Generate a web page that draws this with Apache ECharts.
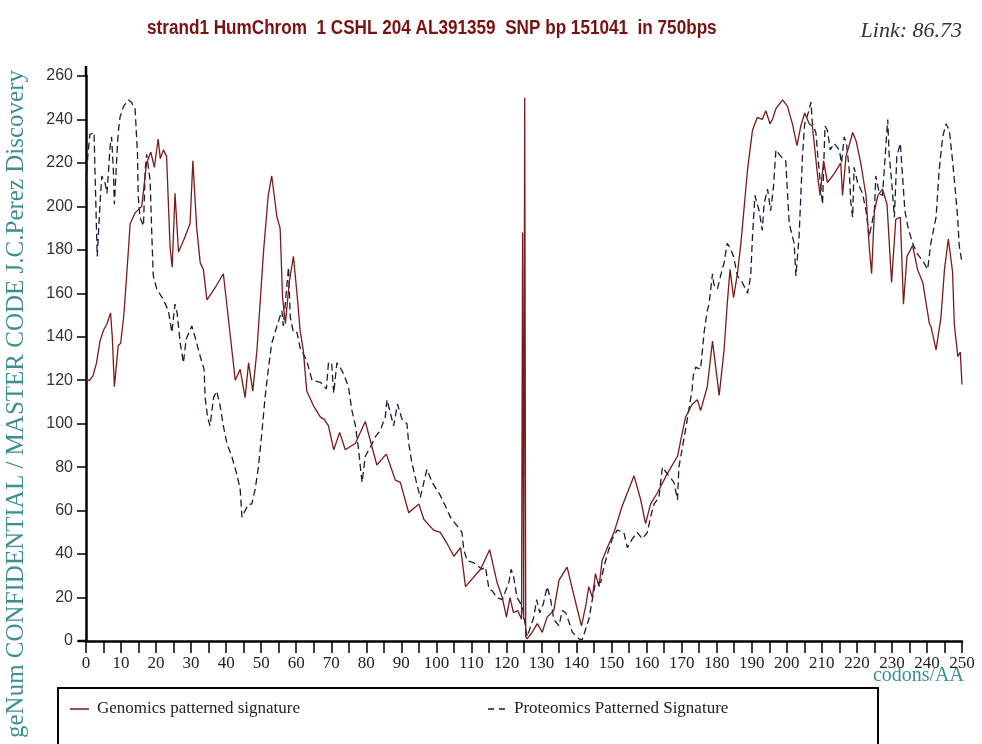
<!DOCTYPE html>
<html>
<head>
<meta charset="utf-8">
<script src="https://cdn.jsdelivr.net/npm/echarts@6/dist/echarts.min.js"></script>
<style>
html,body{margin:0;padding:0;background:#fff;}
#chart{width:982px;height:744px;}
</style>
</head>
<body>
<div id="chart"></div>
<script>
// ---- data ----
const titleText = 'strand1 HumChrom  1 CSHL 204 AL391359  SNP bp 151041  in 750bps';
const linkText = 'Link: 86.73';
const yAxisName = 'geNum CONFIDENTIAL / MASTER CODE J.C.Perez Discovery';
const xAxisName = 'codons/AA';
const seriesNames = ['Genomics patterned signature', 'Proteomics Patterned Signature'];

const genX = [0,1,2,3,4,5,6,7,7.5,8.1,9.2,9.9,10.8,11.6,12.6,14,15.9,17.3,18.5,19.5,20.6,21.2,22.1,23,24,24.6,25.4,26.4,28,29.7,30.5,31.6,32.6,33.5,34.5,37,39.2,42.6,44,45.4,46.4,47.6,48.8,50.7,52,53,54.5,55.4,56.1,56.9,58,59.2,60.2,61.1,62,63,65,66.9,68,69.2,70.7,72.4,74,76.9,79.7,83,85.7,88.3,89.7,92.1,95,96.4,99.2,101.1,103,105,106.9,108.3,112.6,115.2,117.3,118.8,120,121,122,123.2,124.3,124.6,124.9,125.2,125.5,125.9,127.3,128.8,130.2,131.6,133.5,135,137.3,138.8,140,141.4,142.6,143.5,144.5,145.4,146.4,147.3,148.8,150.7,153,156.4,158.3,159.7,161.1,163,165.9,168.8,170.2,171.1,173,174.5,175.4,177.3,178.8,180.7,182.1,183,183.8,184.8,185.9,186.9,188.8,190.2,191.6,193,194,195.2,195.9,196.9,198.8,200.2,201.6,202.9,204,205.1,206.4,207.3,208.8,209.5,210.5,211.6,213.5,215.4,215.9,216.9,217.8,218.8,219.8,221.1,222.6,223.5,224.2,225,226,227.3,228.6,229.9,231.1,232.4,233.3,234.3,235.9,237.3,238.8,239.8,240.7,241.1,242.6,244,245,246.1,247.3,247.8,248.8,249.5,250];
const genY = [120,120,122,128,138,143,146,151,140,117,136,137,150,168,192,197,200,220,225,218,231,222,226,223,181,172,206,179,185,192,221,190,174,171,157,163,169,120,125,112,128,115,134,180,205,214,195,190,158,146,165,177,160,143,134,115,108,103,102,99,88,96,88,91,101,81,86,74,73,59,63,56,51,50,45,39,43,25,33,42,27,20,11,20,13,14,10,188,10,250,2,1,4,8,4,11,14,28,34,24,16,7,16,25,20,31,25,37,43,50,62,76,65,54,63,68,77,85,96,103,109,111,106,117,138,113,134,155,171,158,169,183,217,235,241,240,244,238,240,245,249,246,238,228,237,243,238,237,214,205,221,211,215,220,205,223,228,234,230,220,205,182,169,198,205,208,201,165,194,195,155,177,182,171,165,155,146,145,134,149,171,185,170,146,131,133,118];

const protX = [0,0.5,1.1,2.3,2.6,3.2,4,4.5,5.4,6,6.9,7.3,7.8,8.1,8.8,9.2,9.7,10.7,12.1,12.9,14,14.7,14.9,15.4,16.4,16.9,17.3,18.3,18.8,19.2,20.2,22.1,23.5,24.5,25.4,26,26.9,27.8,28.6,30.2,31.1,32.6,33.7,34,34.7,35.4,36.4,37.3,38.3,39.2,40.2,41.6,43,44,44.5,45.4,46.4,47.3,48.3,49.2,50.2,51.1,52.1,53,54.5,55.9,56.3,57.3,57.8,58.3,59.2,60.2,61.1,63,64.5,66.9,68.6,69.2,70.1,70.7,71.6,72.5,73.5,74.9,75.9,76.9,77.8,78.3,78.8,79.7,81.1,82.6,84,85.4,85.9,87,87.8,88.9,90.2,91.6,92.1,93,94.3,95.4,96.4,97.3,98.8,101.1,102.6,104,105.9,107.3,107.8,108.8,110.7,113,114,115,116,117.3,118.8,120.7,121.3,122,123,124.5,125.9,127.8,128.6,129.5,130.5,131.6,132.6,133.5,135,135.9,136.9,137.8,138.8,140.7,141.6,143.5,144.5,145.4,146.9,147.8,148.8,150.2,151.6,153.5,154.5,155.9,157.3,158.8,160.2,161.1,162.1,163.5,164.5,165.4,167.8,168.8,169.2,170.2,171.6,173,173.3,174,175.4,176.4,177.3,177.8,178.8,179.2,180.2,181.1,182.1,183,183.8,184.8,185.9,187.3,188.8,189.7,190.2,190.9,192.1,193,193.5,194.5,195.4,196.2,196.9,198.3,199.7,200.2,200.7,202.1,202.6,203.5,204,204.5,205.1,206.1,206.9,207.3,208.3,208.8,209.5,210.2,210.9,211.6,212.4,213.5,215,215.6,216.4,217.1,217.8,218.3,218.8,219.2,220.2,221.6,222.6,223.5,225,225.4,226.4,227.3,228.8,229.2,229.9,230.7,231.4,232.4,232.9,233.7,234.5,235.9,237.3,238.8,240.2,241.1,242.6,243.5,244.5,245.4,246.4,247.3,248,248.8,249.2,250];
const protY = [211,223,233,234,214,177,201,214,211,206,228,232,217,201,223,234,241,246,249,248,245,224,205,195,191,217,224,212,186,168,162,157,152,142,155,151,137,128,139,145,140,131,125,112,103,99,112,115,108,99,91,85,77,70,57,60,63,63,70,80,96,112,126,137,145,152,145,163,172,149,142,142,135,129,120,119,116,128,128,114,128,126,123,117,106,99,88,80,73,85,89,94,97,103,111,104,99,109,102,100,91,82,73,66,73,79,73,67,62,57,53,50,42,37,36,33,34,24,23,20,19,27,33,30,20,16,2,11,19,13,17,25,19,10,7,14,13,9,4,1,0.5,10,19,27,27,34,40,47,51,50,43,47,50,47,50,57,63,66,80,78,73,65,80,89,102,116,122,126,125,142,152,155,169,164,162,168,174,183,181,177,168,165,160,168,186,205,198,189,201,208,198,209,226,223,221,206,192,183,168,186,205,224,238,243,248,238,234,224,212,201,237,235,226,229,226,220,232,228,217,201,195,218,211,206,198,186,198,214,206,205,240,224,212,195,223,229,217,198,191,183,178,175,171,183,195,217,232,238,235,221,209,194,182,174];

const yMin = 0, yMax = 260, yStep = 20;
const xMin = 0, xMax = 250, xStep = 10;

// ---- chart ----
const genColor = '#7a1a1a';
const protColor = '#1a1a3a';
const chart = echarts.init(document.getElementById('chart'), null, {renderer: 'canvas'});
const serifFont = "'Liberation Serif', 'Times New Roman', serif";

chart.setOption({
  animation: false,
  backgroundColor: '#fff',
  grid: {left: 86, right: 20, top: 76, bottom: 103, containLabel: false},
  xAxis: {
    type: 'value', min: xMin, max: xMax, interval: xStep,
    axisLine: {show: true, lineStyle: {color: '#000', width: 2.5}},
    axisTick: {show: true, length: 12, lineStyle: {color: '#000', width: 1.5}},
    minorTick: {show: true, splitNumber: 2, length: 12, lineStyle: {color: '#000', width: 1.5}},
    splitLine: {show: false},
    axisLabel: {color: '#222', fontFamily: serifFont, fontSize: 17, margin: 14}
  },
  yAxis: {
    type: 'value', min: yMin, max: yMax, interval: yStep,
    axisLine: {show: true, lineStyle: {color: '#000', width: 2.5}},
    axisTick: {show: true, length: 9, lineStyle: {color: '#000', width: 1.5}},
    splitLine: {show: false},
    axisLabel: {color: '#333', fontFamily: "'Liberation Sans', Arial, sans-serif", fontSize: 16, margin: 13}
  },
  series: [
    {
      name: seriesNames[0], type: 'line', showSymbol: false, symbol: 'none',
      data: genX.map((x, i) => [x, genY[i]]),
      lineStyle: {color: genColor, width: 1.3}, z: 3
    },
    {
      name: seriesNames[1], type: 'line', showSymbol: false, symbol: 'none',
      data: protX.map((x, i) => [x, protY[i]]),
      lineStyle: {color: protColor, width: 1.3, type: [7, 4]}, z: 2
    }
  ],
  graphic: [
    {type: 'text', x: 147, y: 18, scaleX: 0.857, style: {text: titleText, fill: '#7a1010', font: "bold 20px 'Liberation Sans', Arial, sans-serif"}},
    {type: 'text', right: 20, top: 20, style: {text: linkText, fill: '#333', font: "italic 22px 'Liberation Serif', 'Times New Roman', serif"}},
    {type: 'text', x: 16, y: 404, rotation: Math.PI / 2, style: {text: yAxisName, fill: '#3f8f8f', font: "25px 'Liberation Serif', 'Times New Roman', serif", align: 'center', verticalAlign: 'middle'}},
    {type: 'text', right: 18, top: 666, style: {text: xAxisName, fill: '#3f8f8f', font: "20px 'Liberation Serif', 'Times New Roman', serif"}},
    {type: 'line', shape: {x1: 86, y1: 66, x2: 86, y2: 77}, style: {stroke: '#000', lineWidth: 2.5}},
    {type: 'line', shape: {x1: 78, y1: 641, x2: 87, y2: 641}, style: {stroke: '#000', lineWidth: 2.5}},
    {type: 'rect', shape: {x: 58, y: 688, width: 820, height: 80}, style: {fill: 'none', stroke: '#000', lineWidth: 2}},
    {type: 'line', shape: {x1: 70, y1: 709, x2: 89, y2: 709}, style: {stroke: genColor, lineWidth: 1.5}},
    {type: 'text', x: 97, y: 709, style: {text: seriesNames[0], fill: '#222', font: "17px 'Liberation Serif', 'Times New Roman', serif", verticalAlign: 'middle'}},
    {type: 'line', shape: {x1: 488, y1: 709, x2: 507, y2: 709}, style: {stroke: protColor, lineWidth: 1.5, lineDash: [6, 5]}},
    {type: 'text', x: 514, y: 709, style: {text: seriesNames[1], fill: '#222', font: "17px 'Liberation Serif', 'Times New Roman', serif", verticalAlign: 'middle'}}
  ]
});
</script>
</body>
</html>
